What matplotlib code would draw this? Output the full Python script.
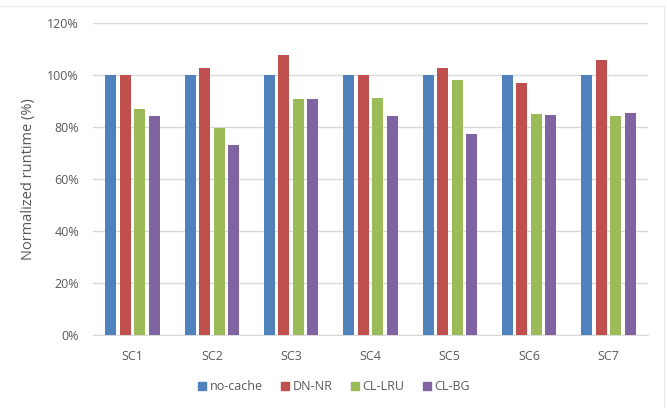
import matplotlib

matplotlib.use("Agg")
import matplotlib.pyplot as plt
import numpy as np
from matplotlib.lines import Line2D
from matplotlib.ticker import FuncFormatter

categories = ["SC1", "SC2", "SC3", "SC4", "SC5", "SC6", "SC7"]
series_names = ["no-cache", "DN-NR", "CL-LRU", "CL-BG"]
no_cache = [100, 100, 100, 100, 100, 100, 100]
dn_nr = [100, 102.8, 107.8, 100, 102.6, 96.9, 105.6]
cl_lru = [86.9, 79.8, 90.9, 91.0, 98.0, 84.9, 84.4]
cl_bg = [84.4, 73.2, 90.6, 84.2, 77.3, 84.7, 85.2]
colors = ["#4F81BD", "#C0504D", "#9BBB59", "#8064A2"]

TEXT = "#595959"
GRID = "#D9D9D9"

plt.rcParams["font.family"] = ["Open Sans", "DejaVu Sans"]

fig = plt.figure(figsize=(6.67, 4.08), dpi=100)
ax = fig.add_axes([93 / 667, 1 - 335 / 408, 555 / 667, 312 / 408])

x = np.arange(len(categories))
slot = 0.183
width = 0.139
for i, (name, values, color) in enumerate(zip(series_names, [no_cache, dn_nr, cl_lru, cl_bg], colors)):
    ax.bar(x + (i - 1.5) * slot, values, width=width, color=color, label=name, zorder=3)

ax.set_xlim(-0.5, len(categories) - 0.5)
ax.set_ylim(0, 120)
ax.set_yticks(range(0, 121, 20))
ax.yaxis.set_major_formatter(FuncFormatter(lambda v, _: f"{v:.0f}%"))
ax.set_xticks(x, categories)
ax.grid(axis="y", color=GRID, linewidth=1, zorder=0)
for side in ("top", "right", "left"):
    ax.spines[side].set_visible(False)
ax.spines["bottom"].set_color(GRID)
ax.tick_params(axis="both", length=0, colors=TEXT, labelsize=9)
ax.tick_params(axis="y", pad=10)
ax.tick_params(axis="x", pad=11)
ax.set_ylabel("Normalized runtime (%)", color=TEXT, fontsize=10.5, labelpad=8)

handles = [Line2D([], [], marker="s", linestyle="none", markersize=6, color=c) for c in colors]
fig.legend(
    handles,
    series_names,
    loc="center",
    bbox_to_anchor=(333 / 667, 1 - 387 / 408),
    ncol=4,
    frameon=False,
    fontsize=9,
    labelcolor=TEXT,
    handletextpad=0.1,
    columnspacing=1.3,
    handlelength=1.0,
)

# faint chart border like the original
fig.add_artist(Line2D([0, 664 / 667], [1 - 6 / 408] * 2, color="#EBEBEB", linewidth=1, transform=fig.transFigure))
fig.add_artist(Line2D([664 / 667] * 2, [0, 1 - 6 / 408], color="#EBEBEB", linewidth=1, transform=fig.transFigure))

fig.savefig("out.png", dpi=100)
